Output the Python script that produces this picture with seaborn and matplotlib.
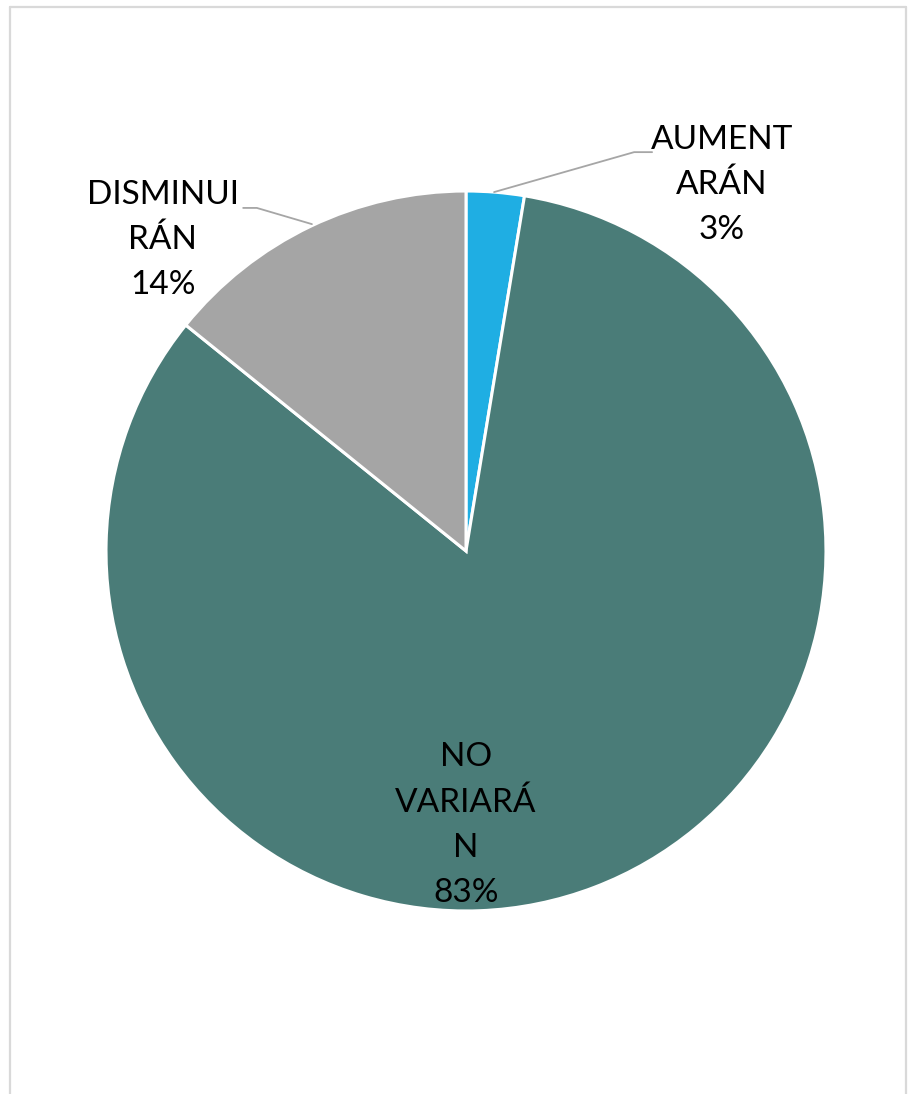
import matplotlib
matplotlib.use("Agg")
import matplotlib.pyplot as plt
from matplotlib.lines import Line2D
import seaborn as sns

sns.set_theme(style="white")
plt.rcParams["font.family"] = ["Lato", "DejaVu Sans"]

categorias = ["AUMENT\nARÁN", "NO\nVARIARÁ\nN", "DISMINUI\nRÁN"]
valores = [2.6, 83.2, 14.2]
colores = ["#1FAEE3", "#4A7C78", "#A5A5A5"]

fig = plt.figure(figsize=(9.13, 10.94), dpi=100)
ax = fig.add_axes([0.1161, 0.1673, 0.7886, 0.6581])

wedges, _ = ax.pie(valores, colors=colores, startangle=90, counterclock=False,
                   radius=1, wedgeprops=dict(edgecolor="white", linewidth=2.2))
ax.set_xlim(-1, 1)
ax.set_ylim(-1, 1)
ax.set_aspect("equal")
ax.axis("off")

# etiquetas
pos_etiquetas = [(0.711, 1.017), (0.0, -0.761), (-0.842, 0.864)]
for cat, val, (x, y) in zip(categorias, valores, pos_etiquetas):
    ax.text(x, y, f"{cat}\n{val:.0f}%", ha="center", va="center",
            fontsize=24, color="black", linespacing=1.62, clip_on=False)

# líneas guía
ax.plot([0.078, 0.467, 0.517], [0.997, 1.108, 1.108], color="#A6A6A6", lw=1.3, clip_on=False)
ax.plot([-0.619, -0.581, -0.428], [0.953, 0.953, 0.908], color="#A6A6A6", lw=1.3, clip_on=False)

# marco
borde = "#D9D9D9"
x0, x1 = 9.5 / 913, 905.5 / 913
ytop = 1 - 6.5 / 1094
for xs, ys in [([x0, x0], [0, ytop]), ([x1, x1], [0, ytop]), ([x0, x1], [ytop, ytop])]:
    fig.add_artist(Line2D(xs, ys, color=borde, lw=1.6, transform=fig.transFigure))

fig.savefig("out.png", dpi=100, facecolor="white")
